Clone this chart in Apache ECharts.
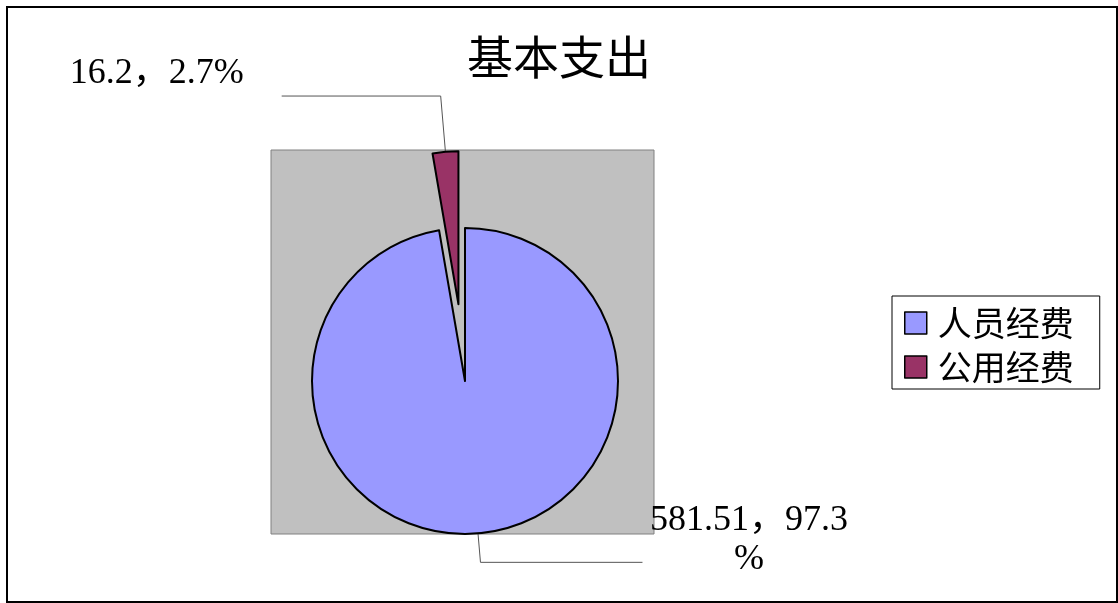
<!DOCTYPE html>
<html>
<head>
<meta charset="utf-8">
<script src="https://cdn.jsdelivr.net/npm/echarts@6/dist/echarts.min.js"></script>
<style>
html,body{margin:0;padding:0;background:#fff;}
#chart{width:1118px;height:603px;}
</style>
</head>
<body>
<div id="chart"></div>
<script>
const titleText = '基本支出';
const categories = ['人员经费', '公用经费'];
const values = [581.51, 16.2];
const colors = ['#9999FF', '#993366'];

const numFont = "'Liberation Serif', 'Noto Sans CJK SC', serif";
const cjkFont = "'Noto Sans CJK SC', sans-serif";

const itemOpts = [
  {
    label: {
      distanceToLabelLine: 0,
      padding: [0, 0, 45, 0],
      rich: {
        a: { fontFamily: numFont, fontSize: 36, color: '#000', lineHeight: 39, width: 213, align: 'center' },
        b: { fontFamily: numFont, fontSize: 36, color: '#000', lineHeight: 39, width: 213, align: 'center' }
      }
    },
    labelLine: { length: 29, length2: 162 }
  },
  {
    selected: true,
    label: {
      padding: [0, 33, 44, 0],
      rich: {
        a: { fontFamily: numFont, fontSize: 36, color: '#000', lineHeight: 40 }
      }
    },
    labelLine: { length: 56, length2: 159 }
  }
];

const data = categories.map((name, i) => Object.assign({
  name: name,
  value: values[i],
  itemStyle: { color: colors[i] }
}, itemOpts[i]));

const chart = echarts.init(document.getElementById('chart'));
chart.setOption({
  animation: false,
  backgroundColor: '#fff',
  title: {
    text: titleText,
    left: 'center',
    top: 34,
    padding: 0,
    textStyle: { fontSize: 46, fontWeight: 'normal', fontFamily: cjkFont, color: '#000', lineHeight: 46 }
  },
  graphic: [
    { type: 'rect', z: -10, shape: { x: 7, y: 7, width: 1110, height: 595 }, style: { fill: '#fff', stroke: '#000', lineWidth: 2 } },
    { type: 'rect', z: -5, shape: { x: 271, y: 150, width: 383, height: 384 }, style: { fill: '#C0C0C0', stroke: '#808080', lineWidth: 1 } }
  ],
  legend: {
    orient: 'vertical',
    left: 892,
    top: 296,
    data: categories,
    icon: 'rect',
    itemWidth: 22,
    itemHeight: 22,
    itemGap: 6,
    padding: [8, 26, 3, 12],
    borderColor: '#000',
    borderWidth: 1,
    backgroundColor: '#fff',
    selectedMode: false,
    itemStyle: { borderColor: '#000', borderWidth: 1.5 },
    textStyle: { fontSize: 34, fontFamily: cjkFont, color: '#000', lineHeight: 38, padding: [0, 0, 0, 6] }
  },
  series: [{
    type: 'pie',
    center: [465, 381],
    radius: 153,
    startAngle: 90,
    clockwise: true,
    selectedMode: 'single',
    selectedOffset: 77,
    avoidLabelOverlap: false,
    percentPrecision: 1,
    emphasis: { disabled: true },
    itemStyle: { borderColor: '#000', borderWidth: 2 },
    label: {
      show: true,
      position: 'outside',
      fontFamily: numFont,
      fontSize: 36,
      color: '#000',
      formatter: function (p) {
        if (p.dataIndex === 0) {
          return '{a|' + p.value + '，' + p.percent + '}\n{b|%}';
        }
        return '{a|' + p.value + '，' + p.percent + '%}';
      }
    },
    labelLine: { show: true, smooth: false, lineStyle: { color: '#555', width: 1 } },
    data: data
  }]
});
</script>
</body>
</html>
